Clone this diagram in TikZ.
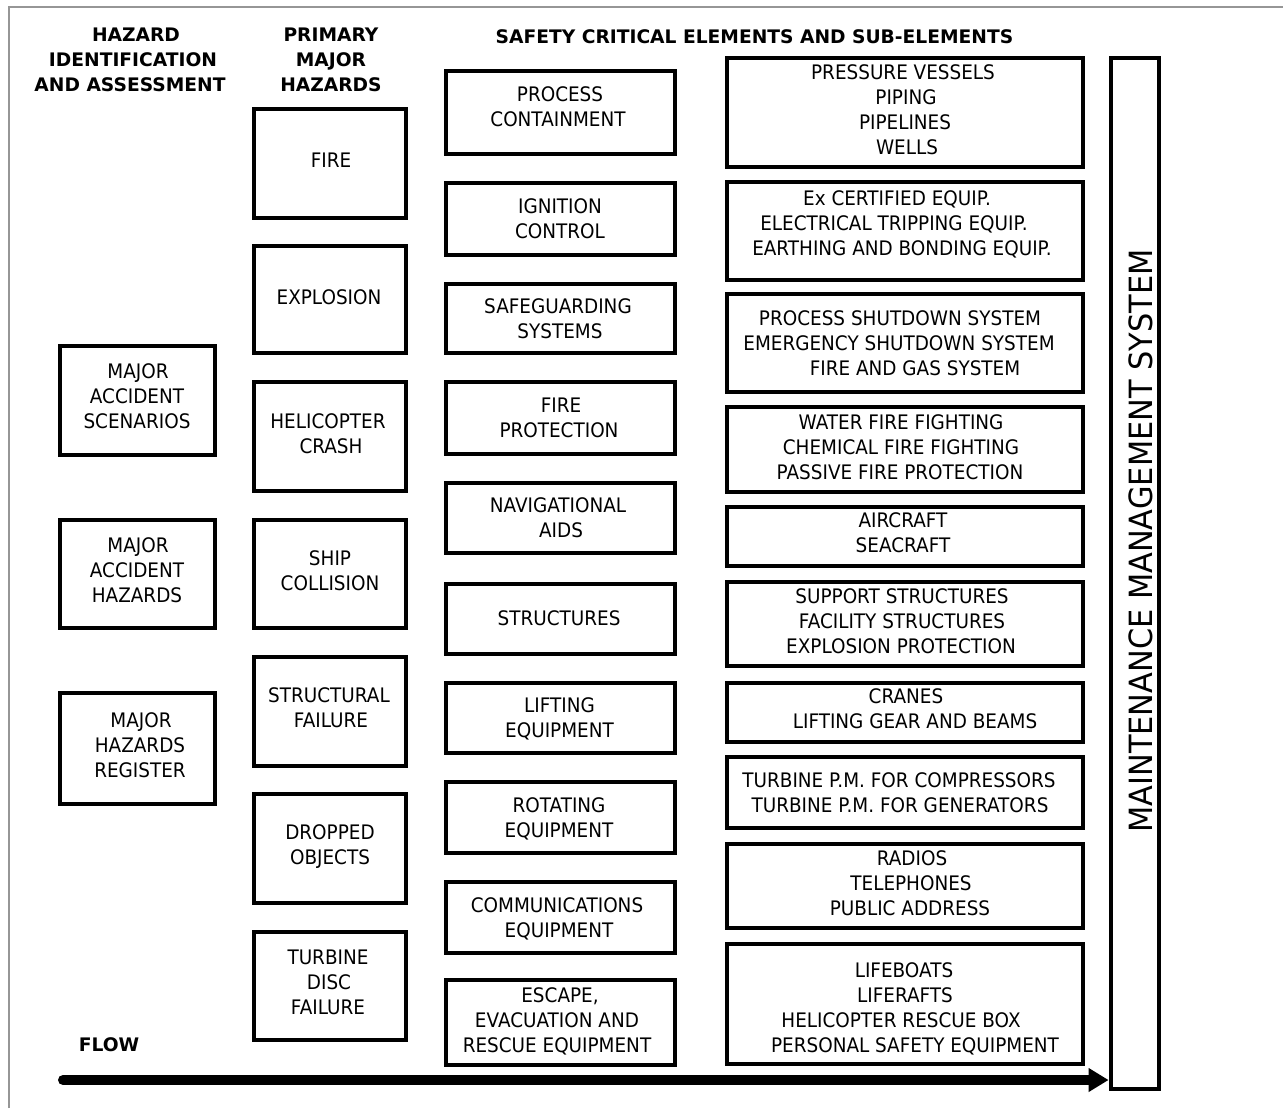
\documentclass[tikz,border=0pt]{standalone}
\usepackage{fontspec}
\setmainfont{DejaVu Sans}[FakeStretch=0.92]
\newfontfamily\headfont{DejaVu Sans}[FakeStretch=1.0]
\newfontfamily\mmsfont{DejaVu Sans}[FakeStretch=0.95]
\usetikzlibrary{arrows.meta}
\newdimen\pxu \pxu=0.75pt
\newcommand\st{\rule[-3.905pt]{0pt}{18.75pt}}
\newcommand\Lc[2]{\makebox[0pt]{\hspace*{#1\pxu}\hspace*{#1\pxu}#2}\st}
\newcommand\boxat[5]{\node[bx, minimum width={(#4-#2)*0.75pt}, minimum height={(#5-#3)*0.75pt}] (#1) at ({(#2+#4)/2},{(#3+#5)/2}) {};}
\definecolor{frame}{RGB}{150,150,150}
\tikzset{
  bx/.style={draw, line width=3.6pt, inner sep=0pt, rectangle},
  tx/.style={inner sep=0pt, align=center, font=\fontsize{15pt}{18.75pt}\selectfont},
  hd/.style={inner sep=0pt, align=center, font=\headfont\bfseries\fontsize{14pt}{18.75pt}\selectfont},
  flow/.style={line width=7.5pt, line cap=round, -{Triangle[length=15pt,width=17pt]}},
}
\begin{document}
\begin{tikzpicture}[x=0.75pt,y=-0.75pt]
\useasboundingbox (0,0) rectangle (1283,1108);
\fill[white] (0,0) rectangle (1283,1108);
\draw[frame, line width=1.1pt] (9,1108) -- (9,7) -- (1283,7);

% headers
\node[hd] (h1) at (133,59) {\Lc{3}{HAZARD}\\\Lc{0}{IDENTIFICATION}\\\Lc{-3}{AND ASSESSMENT}};
\node[hd] (h2) at (331,59) {\Lc{0}{PRIMARY}\\\Lc{0}{MAJOR}\\\Lc{0}{HAZARDS}};
\node[hd] (h3) at (754.5,36) {\Lc{0}{SAFETY CRITICAL ELEMENTS AND SUB-ELEMENTS}};
\node[hd] (flowlabel) at (109,1044) {\Lc{0}{FLOW}};

% column 1
\boxat{a1}{60}{346}{215}{455}
\boxat{a2}{60}{520}{215}{628}
\boxat{a3}{60}{693}{215}{804}
\node[tx] (ta1) at (137,396) {\Lc{1}{MAJOR}\\\Lc{0}{ACCIDENT}\\\Lc{0}{SCENARIOS}};
\node[tx] (ta2) at (137,570) {\Lc{1}{MAJOR}\\\Lc{0}{ACCIDENT}\\\Lc{0}{HAZARDS}};
\node[tx] (ta3) at (140,745) {\Lc{1}{MAJOR}\\\Lc{0}{HAZARDS}\\\Lc{0}{REGISTER}};

% column 2
\boxat{b1}{254}{109}{406}{218}
\boxat{b2}{254}{246}{406}{353}
\boxat{b3}{254}{382}{406}{491}
\boxat{b4}{254}{520}{406}{628}
\boxat{b5}{254}{657}{406}{766}
\boxat{b6}{254}{794}{406}{903}
\boxat{b7}{254}{932}{406}{1040}
\node[tx] (tb1) at (331,160) {\Lc{0}{FIRE}};
\node[tx] (tb2) at (329,297) {\Lc{0}{EXPLOSION}};
\node[tx] (tb3) at (329.5,433.5) {\Lc{-1.5}{HELICOPTER}\\\Lc{1.5}{CRASH}};
\node[tx] (tb4) at (330,570.5) {\Lc{0}{SHIP}\\\Lc{0}{COLLISION}};
\node[tx] (tb5) at (330,708) {\Lc{-1}{STRUCTURAL}\\\Lc{1}{FAILURE}};
\node[tx] (tb6) at (330,844.5) {\Lc{0}{DROPPED}\\\Lc{0}{OBJECTS}};
\node[tx] (tb7) at (328,982) {\Lc{0}{TURBINE}\\\Lc{1}{DISC}\\\Lc{0}{FAILURE}};

% column 3
\boxat{c1}{446}{71}{675}{154}
\boxat{c2}{446}{183}{675}{255}
\boxat{c3}{446}{284}{675}{353}
\boxat{c4}{446}{382}{675}{454}
\boxat{c5}{446}{483}{675}{553}
\boxat{c6}{446}{584}{675}{654}
\boxat{c7}{446}{683}{675}{753}
\boxat{c8}{446}{782}{675}{853}
\boxat{c9}{446}{882}{675}{953}
\boxat{c10}{446}{980}{675}{1065}
\node[tx] (tc1) at (559,107) {\Lc{1}{PROCESS}\\\Lc{-1}{CONTAINMENT}};
\node[tx] (tc2) at (560,218.5) {\Lc{0}{IGNITION}\\\Lc{0}{CONTROL}};
\node[tx] (tc3) at (559,319) {\Lc{-1}{SAFEGUARDING}\\\Lc{1}{SYSTEMS}};
\node[tx] (tc4) at (560,418) {\Lc{1}{FIRE}\\\Lc{-1}{PROTECTION}};
\node[tx] (tc5) at (559.5,518) {\Lc{-1.5}{NAVIGATIONAL}\\\Lc{1.5}{AIDS}};
\node[tx] (tc6) at (559,618) {\Lc{0}{STRUCTURES}};
\node[tx] (tc7) at (559.5,718) {\Lc{0}{LIFTING}\\\Lc{0}{EQUIPMENT}};
\node[tx] (tc8) at (559,817.5) {\Lc{0}{ROTATING}\\\Lc{0}{EQUIPMENT}};
\node[tx] (tc9) at (558,917.5) {\Lc{-1}{COMMUNICATIONS}\\\Lc{1}{EQUIPMENT}};
\node[tx] (tc10) at (558,1020) {\Lc{2}{ESCAPE,}\\\Lc{-1}{EVACUATION AND}\\\Lc{-1}{RESCUE EQUIPMENT}};

% column 4
\boxat{d1}{727}{58}{1083}{167}
\boxat{d2}{727}{182}{1083}{280}
\boxat{d3}{727}{294}{1083}{392}
\boxat{d4}{727}{407}{1083}{492}
\boxat{d5}{727}{507}{1083}{566}
\boxat{d6}{727}{582}{1083}{666}
\boxat{d7}{727}{683}{1083}{742}
\boxat{d8}{727}{757}{1083}{828}
\boxat{d9}{727}{844}{1083}{928}
\boxat{d10}{727}{944}{1083}{1064}
\node[tx] (td1) at (905,109.75) {\Lc{-2}{PRESSURE VESSELS}\\\Lc{1}{PIPING}\\\Lc{0}{PIPELINES}\\\Lc{2}{WELLS}};
\node[tx] (td2) at (905,223) {\Lc{-8}{Ex CERTIFIED EQUIP.}\\\Lc{-11}{ELECTRICAL TRIPPING EQUIP.}\\\Lc{-3}{EARTHING AND BONDING EQUIP.}};
\node[tx] (td3) at (905,343) {\Lc{-5}{PROCESS SHUTDOWN SYSTEM}\\\Lc{-6}{EMERGENCY SHUTDOWN SYSTEM}\\\Lc{10}{FIRE AND GAS SYSTEM}};
\node[tx] (td4) at (901,447) {\Lc{0}{WATER FIRE FIGHTING}\\\Lc{0}{CHEMICAL FIRE FIGHTING}\\\Lc{-1}{PASSIVE FIRE PROTECTION}};
\node[tx] (td5) at (903,533) {\Lc{0}{AIRCRAFT}\\\Lc{0}{SEACRAFT}};
\node[tx] (td6) at (902,621) {\Lc{0}{SUPPORT STRUCTURES}\\\Lc{0}{FACILITY STRUCTURES}\\\Lc{-1}{EXPLOSION PROTECTION}};
\node[tx] (td7) at (905,709) {\Lc{1}{CRANES}\\\Lc{10}{LIFTING GEAR AND BEAMS}};
\node[tx] (td8) at (905,793) {\Lc{-6}{TURBINE P.M. FOR COMPRESSORS}\\\Lc{-5}{TURBINE P.M. FOR GENERATORS}};
\node[tx] (td9) at (911,883) {\Lc{1}{RADIOS}\\\Lc{0}{TELEPHONES}\\\Lc{-1}{PUBLIC ADDRESS}};
\node[tx] (td10) at (905,1008) {\Lc{-1}{LIFEBOATS}\\\Lc{0}{LIFERAFTS}\\\Lc{-4}{HELICOPTER RESCUE BOX}\\\Lc{10}{PERSONAL SAFETY EQUIPMENT}};

% column 5
\boxat{mms}{1111}{58}{1159}{1089}
\node[tx, rotate=90, font=\mmsfont\fontsize{24pt}{28pt}\selectfont] (tmms) at (1141,541) {MAINTENANCE MANAGEMENT SYSTEM};

% flow arrow
\coordinate (fs) at (63,1080);
\draw[flow] (fs) -- (fs -| mms.west);
\end{tikzpicture}
\end{document}
